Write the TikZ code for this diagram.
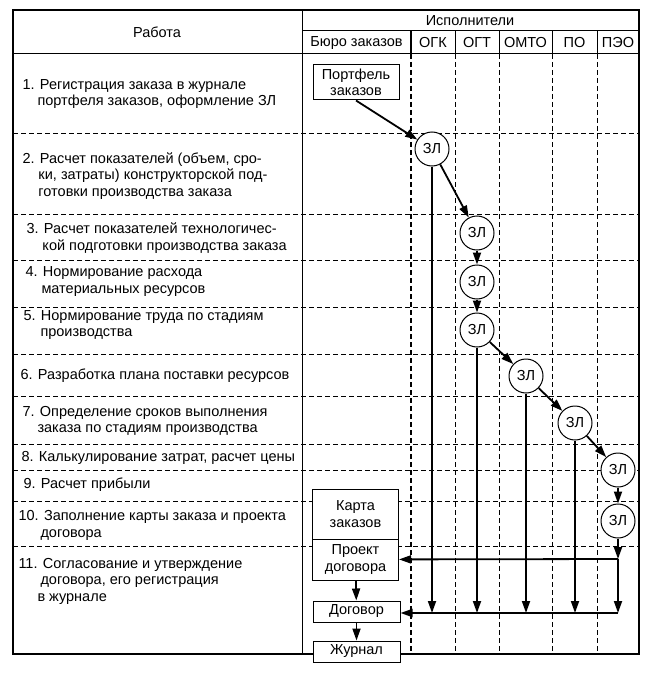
\documentclass[tikz,border=0pt]{standalone}
\usepackage{fontspec}
\setmainfont{Liberation Sans}
\usetikzlibrary{arrows.meta}

\begin{document}
\begin{tikzpicture}[x=1pt, y=-1pt, line width=1pt, font=\fontsize{14.5}{16.5}\selectfont,
    zl/.style={draw, circle, fill=white, minimum size=34pt, inner sep=0pt},
    doc/.style={draw, fill=white, align=center, inner sep=0pt, minimum width=86pt},
    grid/.style={dash pattern=on 5pt off 3pt, line width=0.9pt},
    flow/.style={-{Triangle[length=12pt,width=8pt]}, line width=1.8pt},
    work/.style={anchor=west, align=left, inner sep=0pt}]
  \useasboundingbox (0,0) rectangle (652,682);

  % Row separators
  \foreach \y in {133,214,260,307,354,396,444,470,501,546}
    \draw[grid] (13,\y) -- (639,\y);
  % Performer columns
  \foreach \x in {455,499,552,597} {
    \draw[grid] (\x,54) -- (\x,654);
    \draw (\x,31) -- (\x,54);
  }
  \draw[grid, line width=1.8pt] (411,54) -- (411,654);
  \draw[line width=1.8pt] (411,31) -- (411,54);

  % Table frame
  \draw[line width=1.3pt] (13,10) rectangle (639,654);
  \draw (302,10) -- (302,654);
  \draw (302,31) -- (639,31);
  \draw (13,54) -- (639,54);

  % Header
  \node (hWork) at (157,32) {Работа};
  \node (hExec) at (470,21) {Исполнители};
  \node (hBuro) at (356.5,43) {Бюро заказов};
  \node (hOGK) at (433,43) {ОГК};
  \node (hOGT) at (477,43) {ОГТ};
  \node (hOMTO) at (525.5,43) {ОМТО};
  \node (hPO) at (574.5,43) {ПО};
  \node (hPEO) at (618,43) {ПЭО};

  % Works
  \node[work] (w1) at (22,94) {1. Регистрация заказа в журнале\\\hspace*{15pt}портфеля заказов, оформление ЗЛ};
  \node[work] (w2) at (22,176) {2. Расчет показателей (объем, сро-\\\hspace*{16pt}ки, затраты) конструкторской под-\\\hspace*{16pt}готовки производства заказа};
  \node[work] (w3) at (26,238) {3. Расчет показателей технологичес-\\\hspace*{16pt}кой подготовки производства заказа};
  \node[work] (w4) at (25,281.5) {4. Нормирование расхода\\\hspace*{16pt}материальных ресурсов};
  \node[work] (w5) at (23,325) {5. Нормирование труда по стадиям\\\hspace*{17pt}производства};
  \node[work] (w6) at (20,376) {6. Разработка плана поставки ресурсов};
  \node[work] (w7) at (22,421) {7. Определение сроков выполнения\\\hspace*{15pt}заказа по стадиям производства};
  \node[work] (w8) at (21,458) {8. Калькулирование затрат, расчет цены};
  \node[work] (w9) at (23,485) {9. Расчет прибыли};
  \node[work] (w10) at (18,525.5) {10. Заполнение карты заказа и проекта\\\hspace*{22pt}договора};
  \node[work] (w11) at (18,581) {11. Согласование и утверждение\\\hspace*{22pt}договора, его регистрация\\\hspace*{19pt}в журнале};

  % Documents of the order bureau
  \node[doc, minimum height=35pt] (port) at (356,82.5) {Портфель\\заказов};
  \node[doc, minimum height=50pt] (card) at (355.5,514) {Карта\\заказов};
  \node[doc, minimum height=41pt] (proj) at (355.5,559.5) {Проект\\договора};
  \node[doc, minimum width=87pt, minimum height=21pt] (dog) at (356.5,611.5) {Договор};
  \node[doc, minimum width=87pt, minimum height=21pt] (jour) at (356.5,651.5) {Журнал};

  % Order sheets
  \node[zl] (z1) at (432,149) {ЗЛ};
  \node[zl] (z2) at (477,233) {ЗЛ};
  \node[zl] (z3) at (477,282) {ЗЛ};
  \node[zl] (z4) at (477,330) {ЗЛ};
  \node[zl] (z5) at (526,376) {ЗЛ};
  \node[zl] (z6) at (575,423) {ЗЛ};
  \node[zl] (z7) at (618,470) {ЗЛ};
  \node[zl] (z8) at (618,521) {ЗЛ};
  \coordinate (j1) at (618,559);
  \coordinate (j2) at (618,613);

  % Flow of the order sheet
  \draw[flow] (port.south) -- (z1);
  \draw[flow] (z1) -- (z2);
  \draw[flow] (z2) -- (z3);
  \draw[flow] (z3) -- (z4);
  \draw[flow] (z4) -- (z5);
  \draw[flow] (z5) -- (z6);
  \draw[flow] (z6) -- (z7);
  \draw[flow] (z7) -- (z8);
  \draw[flow] (z8) -- (j1);
  \draw[flow] (j1) -- (proj);
  \draw[flow] (j1) -- (j2);

  % Results back to the bureau
  \foreach \z in {z1,z4,z5,z6}
    \draw[flow] (\z) -- (\z |- j2);
  \draw[flow] (j2) -- (j2 -| dog.east);
  \draw[flow] (proj) -- (dog);
  \draw[flow] (dog) -- (jour);
\end{tikzpicture}
\end{document}
